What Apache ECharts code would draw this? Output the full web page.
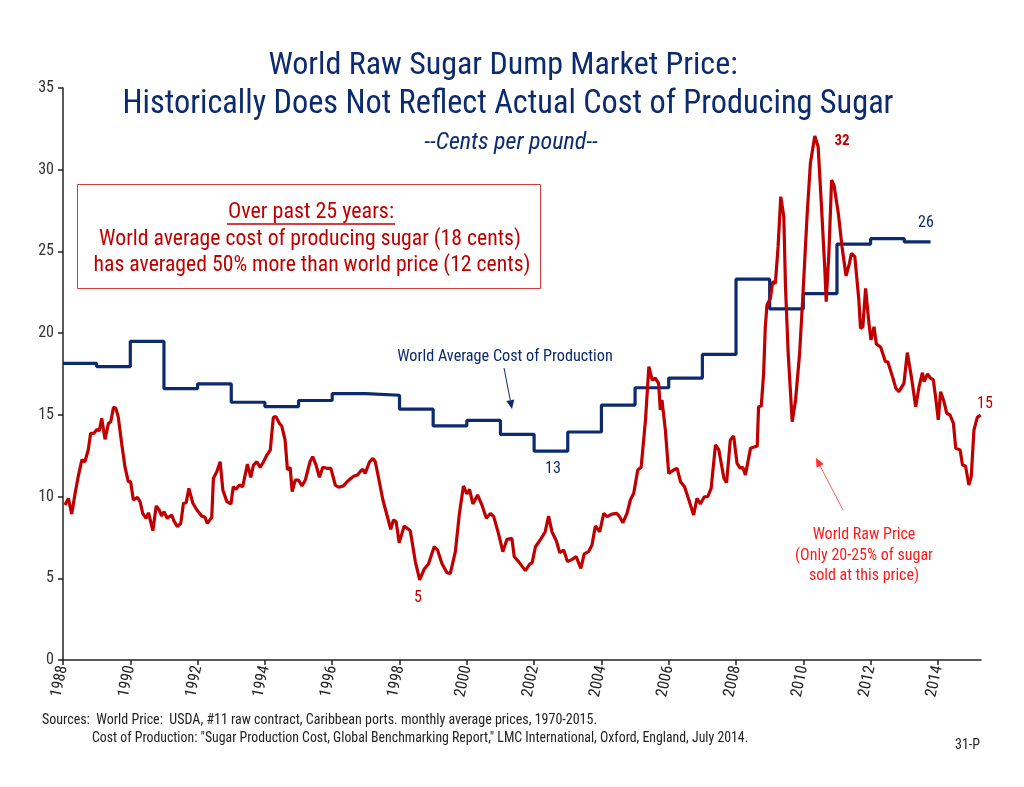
<!DOCTYPE html>
<html><head><meta charset="utf-8">
<script src="https://cdn.jsdelivr.net/npm/echarts@6/dist/echarts.min.js"></script>
<style>html,body{margin:0;padding:0;background:#fff}#c{width:1024px;height:787px}</style>
</head><body><div id="c"></div>
<script>
// Cost of production (cents/lb), annual steps
const costYears = [1988,1989,1990,1991,1992,1993,1994,1995,1996,1997,1998,1999,2000,2001,2002,2003,2004,2005,2006,2007,2008,2009,2010,2011,2012,2013,2013.78];
const costValues = [18.15,17.95,19.5,16.6,16.9,15.77,15.5,15.88,16.3,16.2,15.35,14.32,14.66,13.8,12.78,13.95,15.6,16.66,17.25,18.7,23.3,21.48,22.42,25.45,25.78,25.58,25.58];

// World raw sugar price (cents/lb), monthly-ish readings
const priceYears = [1988.06,1988.16,1988.26,1988.36,1988.45,1988.56,1988.65,1988.75,1988.82,1988.92,1989.0,1989.08,1989.15,1989.25,1989.35,1989.42,1989.5,1989.57,1989.64,1989.75,1989.84,1989.94,1990.01,1990.09,1990.21,1990.29,1990.37,1990.47,1990.54,1990.67,1990.77,1990.86,1990.93,1991.0,1991.1,1991.23,1991.3,1991.4,1991.5,1991.58,1991.66,1991.74,1991.86,1991.98,1992.12,1992.22,1992.29,1992.42,1992.47,1992.57,1992.67,1992.75,1992.87,1992.99,1993.06,1993.14,1993.24,1993.34,1993.48,1993.58,1993.66,1993.76,1993.86,1993.96,1994.06,1994.16,1994.25,1994.33,1994.43,1994.5,1994.6,1994.67,1994.75,1994.81,1994.9,1995.0,1995.1,1995.2,1995.34,1995.42,1995.52,1995.62,1995.72,1995.84,1995.96,1996.09,1996.19,1996.33,1996.44,1996.56,1996.65,1996.75,1996.83,1996.91,1996.98,1997.11,1997.21,1997.28,1997.38,1997.5,1997.6,1997.74,1997.82,1997.9,1997.99,1998.14,1998.32,1998.47,1998.6,1998.73,1998.86,1999.03,1999.13,1999.26,1999.41,1999.51,1999.66,1999.78,1999.9,2000.0,2000.08,2000.18,2000.32,2000.45,2000.58,2000.7,2000.8,2000.94,2001.07,2001.19,2001.34,2001.41,2001.54,2001.74,2001.87,2001.94,2002.04,2002.18,2002.33,2002.43,2002.53,2002.66,2002.76,2002.88,2002.99,2003.13,2003.25,2003.39,2003.49,2003.62,2003.72,2003.82,2003.95,2004.07,2004.17,2004.31,2004.46,2004.54,2004.64,2004.76,2004.86,2004.96,2005.08,2005.18,2005.31,2005.41,2005.51,2005.6,2005.7,2005.75,2005.8,2005.9,2006.0,2006.15,2006.25,2006.35,2006.47,2006.6,2006.74,2006.84,2006.94,2007.06,2007.16,2007.26,2007.39,2007.49,2007.64,2007.72,2007.83,2007.93,2008.03,2008.13,2008.2,2008.28,2008.43,2008.56,2008.63,2008.67,2008.75,2008.82,2008.87,2008.92,2009.02,2009.09,2009.17,2009.25,2009.33,2009.42,2009.47,2009.55,2009.67,2009.77,2009.89,2009.98,2010.11,2010.21,2010.34,2010.44,2010.54,2010.64,2010.68,2010.76,2010.84,2010.91,2011.04,2011.15,2011.27,2011.37,2011.43,2011.53,2011.65,2011.7,2011.77,2011.85,2011.95,2012.01,2012.1,2012.17,2012.3,2012.44,2012.51,2012.65,2012.75,2012.84,2012.99,2013.09,2013.21,2013.34,2013.44,2013.54,2013.59,2013.69,2013.78,2013.86,2013.93,2014.01,2014.08,2014.18,2014.26,2014.36,2014.46,2014.53,2014.66,2014.73,2014.82,2014.92,2014.99,2015.07,2015.17,2015.27];
const priceValues = [9.48,9.89,8.93,10.2,11.2,12.24,12.13,12.85,13.87,13.87,14.1,14.03,14.79,13.5,14.48,14.58,15.46,15.4,14.89,13.16,11.83,10.91,10.91,9.79,9.95,9.69,8.97,8.67,9.01,7.91,9.42,9.18,8.81,9.07,8.67,8.87,8.5,8.16,8.36,9.59,9.63,10.5,9.59,9.18,8.81,8.73,8.36,8.73,11.12,11.52,12.13,10.4,9.69,9.55,10.6,10.44,10.71,10.6,11.99,11.18,11.93,12.13,11.79,12.13,12.54,12.85,14.85,14.89,14.48,14.32,13.46,11.63,11.79,10.3,11.01,11.01,10.65,11.01,12.13,12.44,11.93,11.18,11.79,11.73,11.73,10.71,10.57,10.65,10.91,11.12,11.26,11.32,11.52,11.67,11.42,12.13,12.34,12.13,11.12,9.85,9.07,8.0,8.57,8.46,7.18,8.2,7.91,6.02,4.9,5.55,5.87,6.93,6.73,5.91,5.34,5.3,6.63,8.97,10.65,10.16,10.44,9.55,10.1,9.48,8.67,8.97,8.77,7.75,6.63,7.38,7.44,6.32,6.02,5.47,5.87,5.95,6.93,7.34,7.85,8.81,7.85,7.3,6.57,6.73,6.02,6.16,6.32,5.61,6.49,6.63,7.04,8.2,7.85,8.97,8.77,8.93,8.97,8.77,8.4,8.97,9.79,10.2,11.63,11.79,14.69,17.95,17.13,17.24,16.93,15.3,15.91,14.07,11.42,11.63,11.73,10.91,10.6,9.79,8.87,9.89,9.55,9.99,9.99,10.5,13.16,12.85,11.12,10.85,13.46,13.71,12.03,11.73,11.79,11.32,12.95,13.05,13.09,15.5,15.54,17.54,20.39,21.72,22.13,23.15,23.05,25.29,28.35,27.13,22.84,18.77,14.58,15.91,18.77,22.03,27.13,30.39,32.06,31.41,27.74,23.86,21.92,24.88,29.37,29.06,27.33,25.29,23.5,24.27,24.88,24.68,22.03,20.29,20.39,22.74,20.6,19.58,20.39,19.34,19.13,18.25,18.25,17.34,16.62,16.42,16.93,18.81,17.34,15.5,16.72,17.58,17.03,17.5,17.24,17.17,16.11,14.69,16.42,15.81,15.1,14.99,14.48,12.95,12.85,11.93,11.87,10.71,11.22,14.07,14.85,14.99];

const yearTicks = [1988,1990,1992,1994,1996,1998,2000,2002,2004,2006,2008,2010,2012,2014];

const NAVY = '#0b2a6f';
const RED = '#c00000';
const FONT = "'Liberation Sans Narrow','Arial Narrow','Roboto Condensed','Liberation Sans',Arial,sans-serif";

function zip(xs, ys){ return xs.map((x,i)=>[x, ys[i]]); }

function arrow(x1,y1,x2,y2,color,w,head){
  const a = Math.atan2(y2-y1, x2-x1);
  const L = head, W = head*0.45;
  const bx = x2 - L*Math.cos(a), by = y2 - L*Math.sin(a);
  const p1 = [bx + W*Math.sin(a), by - W*Math.cos(a)];
  const p2 = [bx - W*Math.sin(a), by + W*Math.cos(a)];
  return [
    {type:'line', shape:{x1:x1,y1:y1,x2:bx,y2:by}, style:{stroke:color, lineWidth:w}, silent:true},
    {type:'polygon', shape:{points:[[x2,y2],p1,p2]}, style:{fill:color}, silent:true}
  ];
}
function txt(x,y,text,opts){
  return {type:'text', x:x, y:y, silent:true, style:Object.assign({text:text, fontFamily:FONT, align:'center', verticalAlign:'middle'}, opts)};
}

const chart = echarts.init(document.getElementById('c'), null, {renderer:'canvas'});
const graphics = [
  txt(503, 66, 'World Raw Sugar Dump Market Price:', {fontSize:32, fill:NAVY}),
  txt(508, 105, 'Historically Does Not Reflect Actual Cost of Producing Sugar', {fontSize:32.3, fill:NAVY}),
  txt(511, 143, '--Cents per pound--', {fontSize:24, fill:NAVY, fontStyle:'italic'}),
  {type:'rect', shape:{x:77.5, y:184.5, width:463, height:104}, style:{fill:'#fff', stroke:'#d23c3c', lineWidth:1}, silent:true},
  txt(311, 212, 'Over past 25 years:', {fontSize:22, fill:RED}),
  {type:'line', shape:{x1:227, y1:224, x2:395, y2:224}, style:{stroke:RED, lineWidth:1.5}, silent:true},
  txt(310, 240, 'World average cost of producing sugar (18 cents)', {fontSize:21.7, fill:RED}),
  txt(312, 266, 'has averaged 50% more than world price (12 cents)', {fontSize:21.7, fill:RED}),
  txt(505, 357, 'World Average Cost of Production', {fontSize:16.2, fill:NAVY}),
  ...arrow(504, 368, 512, 409, NAVY, 1, 9),
  txt(553, 469, '13', {fontSize:16, fill:NAVY}),
  txt(418, 598, '5', {fontSize:16, fill:RED}),
  txt(842, 141, '32', {fontSize:15, fill:RED, fontWeight:'bold'}),
  txt(926, 223, '26', {fontSize:16, fill:NAVY}),
  txt(985, 404, '15', {fontSize:16, fill:RED}),
  txt(864, 535, 'World Raw Price', {fontSize:16, fill:'#ff1a1a'}),
  txt(864, 556, '(Only 20-25% of sugar', {fontSize:16, fill:'#ff1a1a'}),
  txt(864, 576, 'sold at this price)', {fontSize:16, fill:'#ff1a1a'}),
  ...arrow(843, 510, 816, 458, '#ff3030', 0.8, 9),
  txt(42, 720, 'Sources:  World Price:  USDA, #11 raw contract, Caribbean ports. monthly average prices, 1970-2015.', {fontSize:14, fill:'#222', align:'left'}),
  txt(92, 739, 'Cost of Production: "Sugar Production Cost, Global Benchmarking Report," LMC International, Oxford, England, July 2014.', {fontSize:13.8, fill:'#222', align:'left'}),
  txt(955, 745, '31-P', {fontSize:14, fill:'#222', align:'left'})
];

chart.setOption({
  animation:false,
  backgroundColor:'#fff',
  grid:{left:63, right:43, top:88, bottom:127, containLabel:false},
  xAxis:{
    type:'value', min:1988, max:2015.28, interval:2,
    splitLine:{show:false},
    axisLine:{show:true, lineStyle:{color:'#222', width:1.5}},
    axisTick:{show:true, customValues:yearTicks, length:5, lineStyle:{color:'#222', width:1.5}},
    axisLabel:{customValues:yearTicks, rotate:78, fontFamily:FONT, fontSize:16, color:'#222', margin:6, formatter:v=>String(Math.round(v))}
  },
  yAxis:{
    type:'value', min:0, max:35, interval:5,
    splitLine:{show:false},
    axisLine:{show:true, lineStyle:{color:'#222', width:1.5}},
    axisTick:{show:true, length:5, lineStyle:{color:'#222', width:1.5}},
    axisLabel:{fontFamily:FONT, fontSize:16, color:'#333', margin:9}
  },
  series:[
    {type:'line', name:'World Average Cost of Production', data:zip(costYears,costValues), step:'end', showSymbol:false, lineStyle:{color:NAVY, width:3.2}, z:2},
    {type:'line', name:'World Raw Price', data:zip(priceYears,priceValues), showSymbol:false, lineStyle:{color:RED, width:3.2}, z:3}
  ],
  graphic: graphics
});
</script></body></html>
